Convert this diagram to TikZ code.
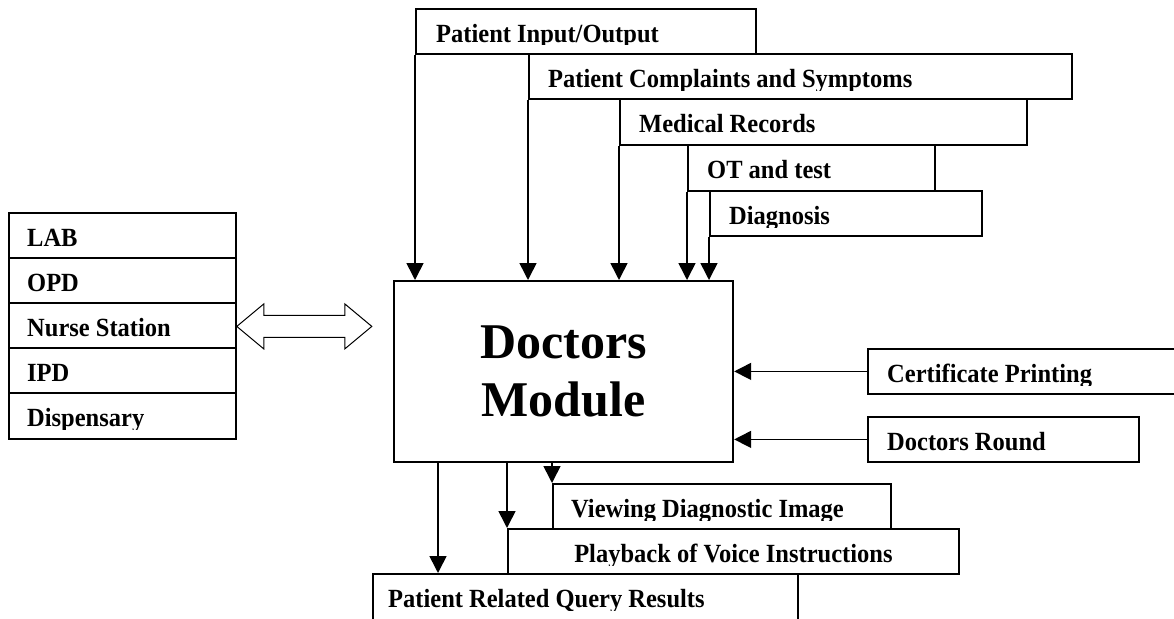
\documentclass[tikz,border=0pt]{standalone}
\usepackage{fontspec}
\setmainfont{Liberation Serif}
\usetikzlibrary{arrows.meta}
\newcommand\cliplabel[4]{%
  \begin{scope}
    \clip (#1.north west) rectangle ([yshift=-37pt]#1.north east);
    \node[lbl] (#2) at ([xshift=#3,yshift=-34pt]#1.north west) {\scalebox{1}[1.07]{#4}};
  \end{scope}}
\begin{document}
\begin{tikzpicture}[x=1pt,y=-1pt,
  box/.style={draw=black, line width=1.8pt, fill=white, anchor=north west, inner sep=0pt, minimum height=45pt},
  lbl/.style={anchor=base west, inner sep=0pt, font=\fontsize{24.5}{29}\selectfont\bfseries},
  arr/.style={line width=1.6pt, -{Triangle[width=17pt,length=17pt]}},
  dbl/.style={draw=black, line width=1pt, fill=white}
]
\useasboundingbox (0,0) rectangle (1174,618);

% left stack
\node[box, minimum width=227pt] (lab) at (8,212) {};
\node[box, minimum width=227pt] (opd) at (8,257) {};
\node[box, minimum width=227pt] (ns) at (8,302) {};
\node[box, minimum width=227pt] (ipd) at (8,347) {};
\node[box, minimum width=227pt, minimum height=46pt] (disp) at (8,392) {};
\cliplabel{lab}{labt}{19pt}{LAB}
\cliplabel{opd}{opdt}{19pt}{OPD}
\cliplabel{ns}{nst}{19pt}{Nurse Station}
\cliplabel{ipd}{ipdt}{19pt}{IPD}
\cliplabel{disp}{dispt}{19pt}{Dispensary}

% top inputs
\node[box, minimum width=340pt] (pio) at (415,8) {};
\node[box, minimum width=543pt] (pcs) at (528,53) {};
\node[box, minimum width=407pt, minimum height=46pt] (mr) at (619,98) {};
\node[box, minimum width=247pt, minimum height=46pt] (ot) at (687,144) {};
\node[box, minimum width=272pt] (dg) at (709,190) {};
\cliplabel{pio}{piot}{21pt}{Patient Input/Output}
\cliplabel{pcs}{pcst}{20pt}{Patient Complaints and Symptoms}
\cliplabel{mr}{mrt}{20pt}{Medical Records}
\cliplabel{ot}{ott}{20pt}{OT and test}
\cliplabel{dg}{dgt}{20pt}{Diagnosis}

% central module
\node[box, line width=2.2pt, minimum width=339pt, minimum height=181pt, align=center,
      font=\fontsize{50}{58}\selectfont\bfseries] (dm) at (393,280) {Doctors\\Module};

% right inputs
\node[box, minimum width=320pt] (cert) at (867,348) {};
\node[box, minimum width=271pt] (drnd) at (867,416) {};
\cliplabel{cert}{certt}{20pt}{Certificate Printing}
\cliplabel{drnd}{drndt}{20pt}{Doctors Round}

% bottom outputs
\node[box, minimum width=338pt] (vw) at (552,483) {};
\node[box, minimum width=451pt] (pb) at (507,528) {};
\node[box, minimum width=425pt, minimum height=60pt] (prq) at (372,573) {};
\cliplabel{vw}{vwt}{19pt}{Viewing Diagnostic Image}
\begin{scope}
  \clip (pb.north west) rectangle ([yshift=-37pt]pb.north east);
  \node[lbl, anchor=base] (pbt) at ([yshift=-34pt]pb.north) {\scalebox{1}[1.07]{Playback of Voice Instructions}};
\end{scope}
\cliplabel{prq}{prqt}{16pt}{Patient Related Query Results}

% connectors
\draw[arr] (pio.south west) -- (pio.south west |- dm.north);
\draw[arr] (pcs.south west) -- (pcs.south west |- dm.north);
\draw[arr] (mr.south west) -- (mr.south west |- dm.north);
\draw[arr] (ot.south west) -- (ot.south west |- dm.north);
\draw[arr] (dg.south west) -- (dg.south west |- dm.north);
\draw[arr] (cert.west) -- (cert.west -| dm.east);
\draw[arr] (drnd.west) -- (drnd.west -| dm.east);
\draw[arr] ([xshift=45pt]dm.south west) -- ([xshift=45pt]dm.south west |- prq.north);
\draw[arr] (pb.north west |- dm.south) -- (pb.north west);
\draw[arr] (vw.north west |- dm.south) -- (vw.north west);

% double arrow between stack and module
\draw[dbl] ([yshift=-1pt]ns.east) -- ++(27,-22.5) -- ++(0,11.5) -- ++(81,0) -- ++(0,-11.5) -- ++(27,22.5)
  -- ++(-27,22.5) -- ++(0,-11.5) -- ++(-81,0) -- ++(0,11.5) -- cycle;
\end{tikzpicture}
\end{document}
